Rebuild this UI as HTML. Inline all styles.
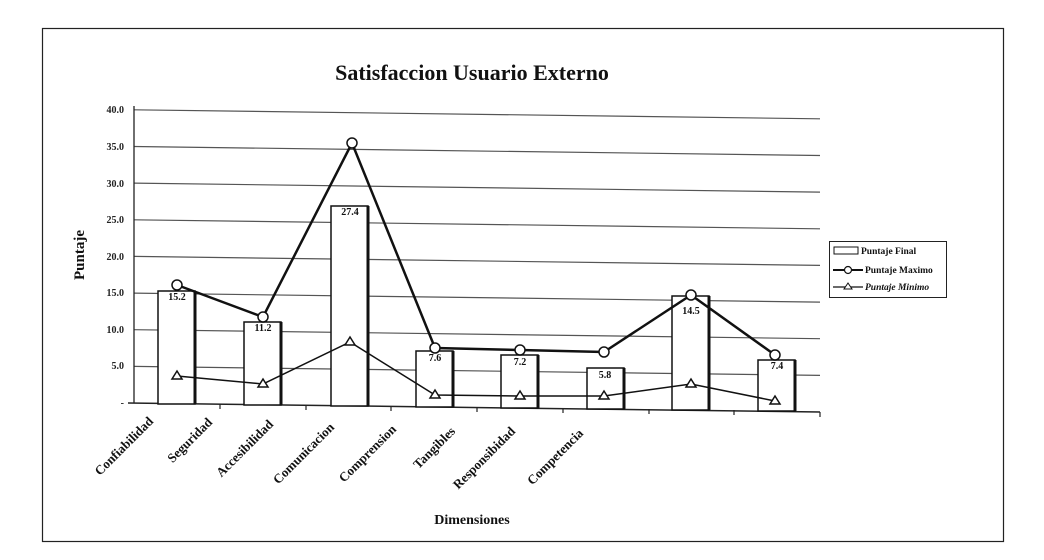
<!DOCTYPE html>
<html><head><meta charset="utf-8"><style>
html,body{margin:0;padding:0;background:#fff;}
svg{display:block;font-family:"Liberation Serif",serif;font-weight:bold;}
</style></head><body>
<svg width="1044" height="560" viewBox="0 0 1044 560" xmlns="http://www.w3.org/2000/svg">
<rect x="0" y="0" width="1044" height="560" fill="#fff"/>
<rect x="42.5" y="28.5" width="961" height="513" fill="none" stroke="#222" stroke-width="1.2"/>
<text x="472" y="80" font-size="22" text-anchor="middle" fill="#111">Satisfaccion Usuario Externo</text>
<text x="84" y="255" font-size="15" text-anchor="middle" fill="#111" transform="rotate(-90 84 255)">Puntaje</text>
<text x="472" y="524" font-size="14" text-anchor="middle" fill="#111">Dimensiones</text>
<g font-size="10" text-anchor="end" fill="#222">
<text x="124" y="113">40.0</text><text x="124" y="150">35.0</text><text x="124" y="187">30.0</text>
<text x="124" y="223">25.0</text><text x="124" y="260">20.0</text><text x="124" y="296">15.0</text>
<text x="124" y="333">10.0</text><text x="124" y="369">5.0</text><text x="124" y="406">-</text>
</g>
<g stroke="#555" stroke-width="1.2">
<line x1="134" y1="109.8" x2="820" y2="118.8"/><line x1="134" y1="146.5" x2="820" y2="155.5"/>
<line x1="134" y1="183.1" x2="820" y2="192.1"/><line x1="134" y1="219.8" x2="820" y2="228.8"/>
<line x1="134" y1="256.4" x2="820" y2="265.4"/><line x1="134" y1="293.1" x2="820" y2="302.1"/>
<line x1="134" y1="329.7" x2="820" y2="338.7"/><line x1="134" y1="366.4" x2="820" y2="375.4"/>
</g>
<line x1="134" y1="106" x2="134" y2="403" stroke="#222" stroke-width="1.3"/>
<line x1="128" y1="403" x2="820" y2="412" stroke="#222" stroke-width="1.5"/>
<g stroke="#222" stroke-width="1.2">
<line x1="220" y1="404" x2="220" y2="409"/><line x1="306" y1="405" x2="306" y2="410"/>
<line x1="391" y1="406" x2="391" y2="411"/><line x1="477" y1="407" x2="477" y2="412"/>
<line x1="563" y1="408" x2="563" y2="413"/><line x1="649" y1="409" x2="649" y2="414"/>
<line x1="734" y1="410" x2="734" y2="415"/><line x1="820" y1="412" x2="820" y2="417"/>
</g>
<g fill="#fff" stroke="#111" stroke-width="1.5">
<rect x="158" y="291" width="37" height="113"/>
<rect x="244" y="322" width="37" height="83"/>
<rect x="331" y="206" width="37" height="200"/>
<rect x="416" y="351" width="37" height="56"/>
<rect x="501" y="355" width="37" height="53"/>
<rect x="587" y="368" width="37" height="41"/>
<rect x="672" y="296" width="37" height="114"/>
<rect x="758" y="360" width="37" height="51"/>
</g>
<g stroke="#111" stroke-width="3">
<line x1="195" y1="291" x2="195" y2="404"/><line x1="281" y1="322" x2="281" y2="405"/>
<line x1="368" y1="206" x2="368" y2="406"/><line x1="453" y1="351" x2="453" y2="407"/>
<line x1="538" y1="355" x2="538" y2="408"/><line x1="624" y1="368" x2="624" y2="409"/>
<line x1="709" y1="296" x2="709" y2="410"/><line x1="795" y1="360" x2="795" y2="411"/>
</g>
<polyline points="177,285 263,317 352,143 435,348 520,350 604,352 691,295 775,355" fill="none" stroke="#111" stroke-width="2.5"/>
<g fill="#fff" stroke="#111" stroke-width="1.5">
<circle cx="177" cy="285" r="5"/><circle cx="263" cy="317" r="5"/><circle cx="352" cy="143" r="5"/>
<circle cx="435" cy="348" r="5"/><circle cx="520" cy="350" r="5"/><circle cx="604" cy="352" r="5"/>
<circle cx="691" cy="295" r="5"/><circle cx="775" cy="355" r="5"/>
</g>
<polyline points="177,376 263,384 350,342 435,395 520,396 604,396 691,384 775,401" fill="none" stroke="#111" stroke-width="1.5"/>
<g fill="#fff" stroke="#111" stroke-width="1.5">
<path d="M177,371 l5,8 h-10 z"/><path d="M263,379 l5,8 h-10 z"/><path d="M350,337 l5,8 h-10 z"/>
<path d="M435,390 l5,8 h-10 z"/><path d="M520,391 l5,8 h-10 z"/><path d="M604,391 l5,8 h-10 z"/>
<path d="M691,379 l5,8 h-10 z"/><path d="M775,396 l5,8 h-10 z"/>
</g>
<g font-size="10" text-anchor="middle" fill="#111">
<text x="177" y="300">15.2</text><text x="263" y="331">11.2</text><text x="350" y="215">27.4</text>
<text x="435" y="361">7.6</text><text x="520" y="365">7.2</text><text x="605" y="378">5.8</text>
<text x="691" y="314">14.5</text><text x="777" y="369">7.4</text>
</g>
<g font-size="13" text-anchor="end" fill="#111">
<text transform="translate(154,422) rotate(-45)">Confiabilidad</text>
<text transform="translate(213,423) rotate(-45)">Seguridad</text>
<text transform="translate(274,425) rotate(-45)">Accesibilidad</text>
<text transform="translate(335,428) rotate(-45)">Comunicacion</text>
<text transform="translate(397,430) rotate(-45)">Comprension</text>
<text transform="translate(456,432) rotate(-45)">Tangibles</text>
<text transform="translate(516,432) rotate(-45)">Responsibidad</text>
<text transform="translate(584,434) rotate(-45)">Competencia</text>
</g>
<rect x="829.5" y="241.5" width="117" height="56" fill="#fff" stroke="#222" stroke-width="1"/>
<rect x="834" y="247" width="24" height="7" fill="#fff" stroke="#111" stroke-width="1"/>
<line x1="833" y1="270" x2="863" y2="270" stroke="#111" stroke-width="2"/>
<circle cx="848" cy="270" r="3.5" fill="#fff" stroke="#111" stroke-width="1.2"/>
<line x1="833" y1="287" x2="863" y2="287" stroke="#111" stroke-width="1.2"/>
<path d="M848,283 l4,6 h-8 z" fill="#fff" stroke="#111" stroke-width="1"/>
<g font-size="9.5" fill="#111">
<text x="861" y="254">Puntaje Final</text>
<text x="865" y="273">Puntaje Maximo</text>
<text x="865" y="290" font-style="italic">Puntaje Minimo</text>
</g>
</svg>
</body></html>
